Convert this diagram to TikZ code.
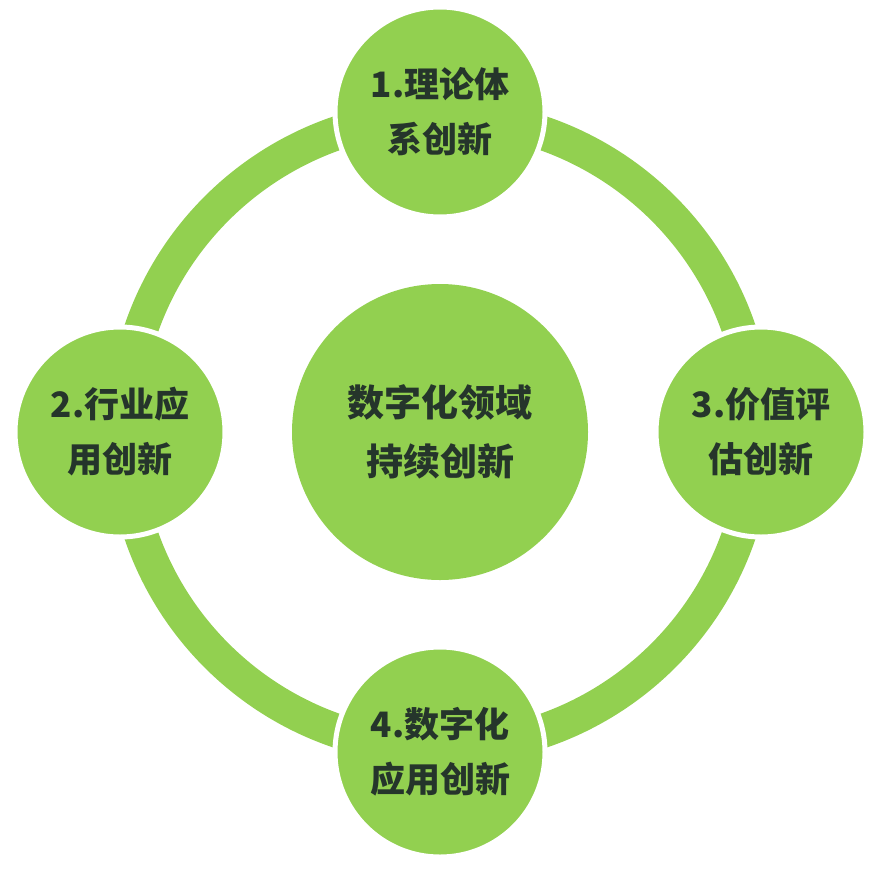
\documentclass[tikz,border=0pt]{standalone}
\usepackage{fontspec}
\newfontfamily\cjk{Noto Sans CJK SC}
\definecolor{leafgreen}{HTML}{92D050}
\definecolor{inkdark}{HTML}{25352B}

\begin{document}
\begin{tikzpicture}[x=1pt, y=-1pt,
  ring/.style={draw=leafgreen, line width=34pt},
  hub/.style={circle, fill=leafgreen, inner sep=0pt, minimum size=296pt, align=center,
    text=inkdark, font=\cjk\bfseries\fontsize{37}{59}\selectfont},
  stage/.style={circle, fill=leafgreen, draw=white, line width=5pt, inner sep=0pt,
    minimum size=210pt, align=center, text=inkdark,
    font=\cjk\bfseries\fontsize{35}{55}\selectfont}]
\useasboundingbox (0,0) rectangle (883,873);
\coordinate (mid) at (440,432);
\draw[ring] (mid) circle[radius=316pt];
\node[hub] (core) at (mid) {数字化领域\\持续创新};
\node[stage] (theory) at (440,112) {1.理论体\\系创新};
\node[stage] (industry) at (120,432) {2.行业应\\用创新};
\node[stage] (value) at (761,432) {3.价值评\\估创新};
\node[stage] (digital) at (440,752) {4.数字化\\应用创新};
\end{tikzpicture}
\end{document}
